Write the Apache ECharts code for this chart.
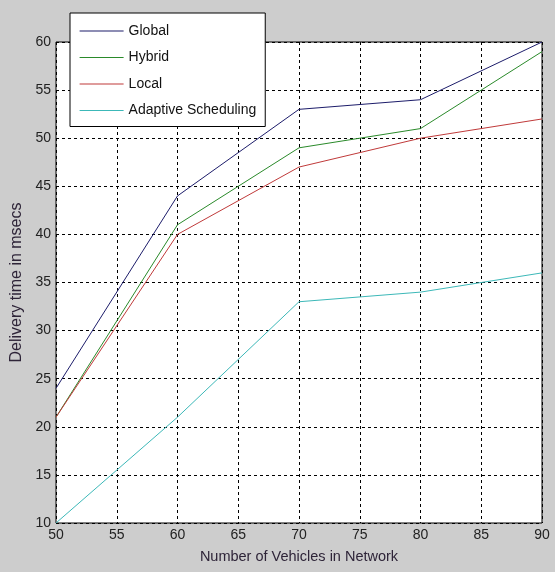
<!DOCTYPE html>
<html>
<head>
<meta charset="utf-8">
<script src="https://cdn.jsdelivr.net/npm/echarts@6/dist/echarts.min.js"></script>
<style>
html,body{margin:0;padding:0;background:#cdcdcd;}
#c{width:555px;height:572px;}
</style>
</head>
<body>
<div id="c"></div>
<script>
var vehicles = [50, 60, 70, 80, 90];
var globalVals = [24, 44, 53, 54, 60];
var hybridVals = [21, 41, 49, 51, 59];
var localVals = [21, 40, 47, 50, 52];
var adaptiveVals = [10, 21, 33, 34, 36];
var seriesNames = ['Global', 'Hybrid', 'Local', 'Adaptive Scheduling'];
var seriesColors = ['#1c1c6a', '#2a8a2a', '#c03a3a', '#3cb8b8'];
var seriesVals = [globalVals, hybridVals, localVals, adaptiveVals];

function pairs(vals){ return vehicles.map(function(x,i){ return [x, vals[i]]; }); }

var chart = echarts.init(document.getElementById('c'));
var font = 'Liberation Sans, Arial, sans-serif';
chart.setOption({
  backgroundColor: '#cdcdcd',
  animation: false,
  grid: {left: 56, right: 13, top: 42, bottom: 49, show: true, backgroundColor: '#ffffff', borderColor: '#000', borderWidth: 1},
  legend: {
    left: 70, top: 13, orient: 'vertical',
    backgroundColor: '#ffffff', borderColor: '#000', borderWidth: 1,
    padding: [11, 9, 9, 9], itemGap: 12.5, itemWidth: 44, itemHeight: 14,
    itemStyle: {opacity: 0},
    lineStyle: {width: 1.2},
    textStyle: {fontFamily: font, fontSize: 14, color: '#111'},
    data: seriesNames
  },
  xAxis: {
    type: 'value', min: 50, max: 90, interval: 5,
    name: 'Number of Vehicles in Network', nameLocation: 'middle', nameGap: 26,
    nameTextStyle: {fontFamily: font, fontSize: 14.5, color: '#2e2438'},
    axisLine: {show: false},
    axisTick: {show: false},
    axisLabel: {fontFamily: font, fontSize: 14, color: '#222', margin: 5},
    splitLine: {show: true, lineStyle: {color: '#000', type: [3, 3], width: 1}}
  },
  yAxis: {
    type: 'value', min: 10, max: 60, interval: 5,
    name: 'Delivery time in msecs', nameLocation: 'middle', nameGap: 25,
    nameTextStyle: {fontFamily: font, fontSize: 16, color: '#2e2438'},
    axisLine: {show: false},
    axisTick: {show: false},
    axisLabel: {fontFamily: font, fontSize: 14, color: '#222', margin: 5},
    splitLine: {show: true, lineStyle: {color: '#000', type: [3, 3], width: 1}}
  },
  series: seriesNames.map(function(n, i){
    return {
      name: n, type: 'line', data: pairs(seriesVals[i]),
      symbol: 'none', color: seriesColors[i],
      lineStyle: {width: 1, color: seriesColors[i]}
    };
  })
});
</script>
</body>
</html>
